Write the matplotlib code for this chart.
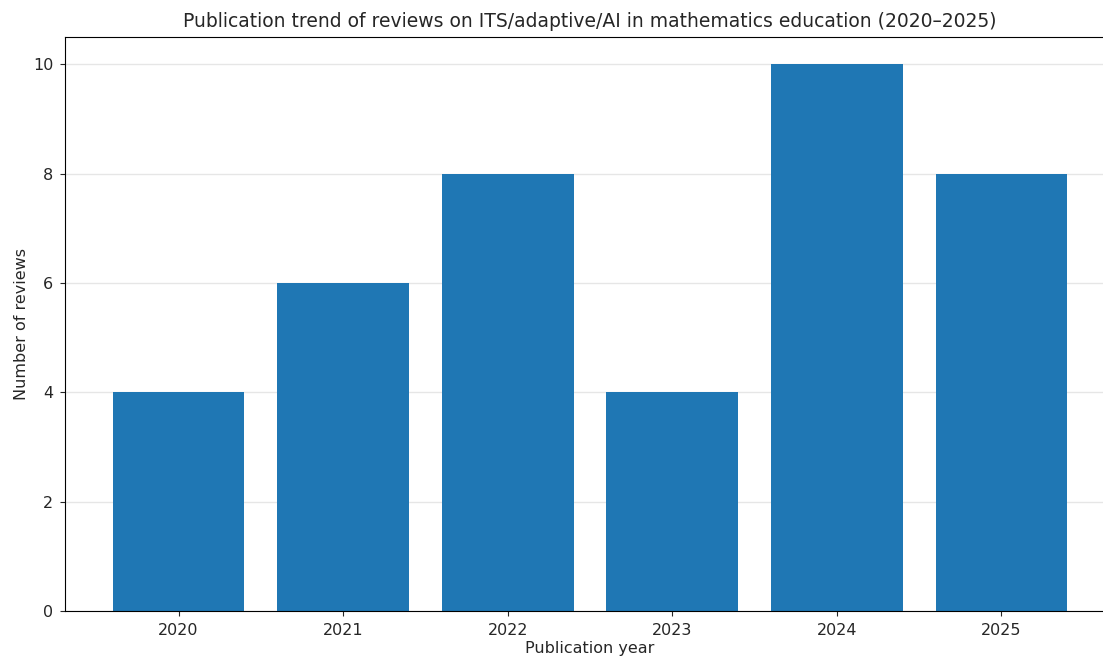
import matplotlib.pyplot as plt

# data
years = ["2020", "2021", "2022", "2023", "2024", "2025"]
counts = [4, 6, 8, 4, 10, 8]

fig = plt.figure(figsize=(11.03, 6.6), dpi=100)
# axes runs past the right edge, like the cropped reference
ax = fig.add_axes([65 / 1103, 49 / 660, 1050 / 1103, 574 / 660])

x = range(len(years))
ax.bar(x, counts, 0.8, color="#1f77b4", zorder=2)
ax.set_xticks(list(x))
ax.set_xticklabels(years)
ax.set_yticks([0, 2, 4, 6, 8, 10])
ax.tick_params(labelsize=11.5, pad=5, colors="#262626", labelcolor="#262626")
ax.grid(axis="y", color="#e6e6e6", linewidth=1, zorder=0)
ax.set_axisbelow(True)

ax.set_title("Publication trend of reviews on ITS/adaptive/AI in mathematics education (2020\u20132025)",
             fontsize=13.5, pad=7, color="#262626")
ax.set_xlabel("Publication year", fontsize=11.5, color="#262626", labelpad=2)
ax.set_ylabel("Number of reviews", fontsize=11.5, color="#262626", labelpad=3)

fig.savefig("out.png", dpi=100)
